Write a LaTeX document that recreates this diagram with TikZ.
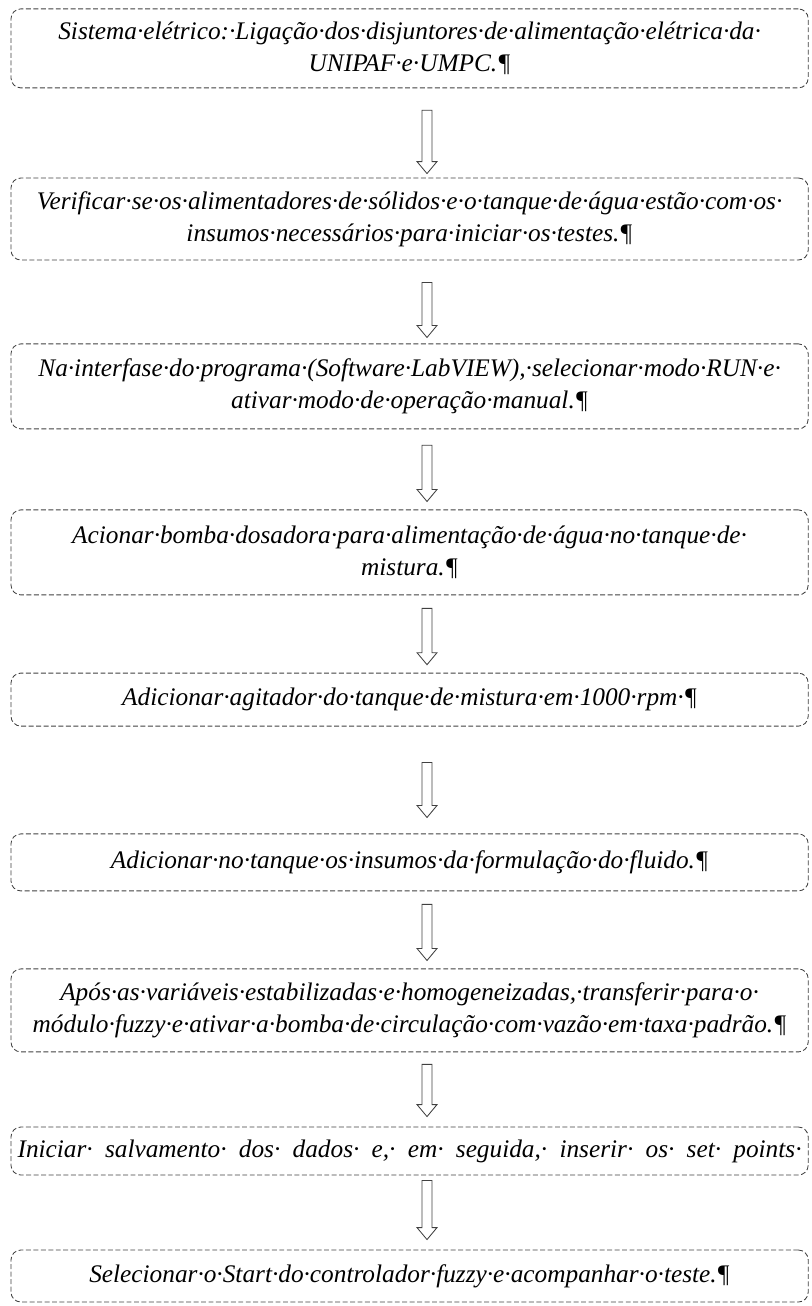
\documentclass[tikz,border=0pt]{standalone}
\usepackage{fontspec}
\setmainfont{Liberation Serif}
\usetikzlibrary{calc}

\tikzset{
	etapa/.style={draw=black!75, dash pattern=on 3.5pt off 1.8pt, line width=0.6pt,
		rounded corners=7pt, minimum width=19.93cm, text width=19.7cm, align=center,
		inner sep=1pt, font=\itshape\fontsize{18}{22.5}\selectfont},
	seta/.style={draw=black!75, line width=0.6pt, to path={
		let \p1=(\tikztostart), \p2=(\tikztotarget) in
		(\x1-0.125cm,\y1) -- (\x1-0.125cm,\y2+0.3cm) -- (\x1-0.25cm,\y2+0.3cm)
		-- (\x1,\y2) -- (\x1+0.25cm,\y2+0.3cm) -- (\x1+0.125cm,\y2+0.3cm)
		-- (\x1+0.125cm,\y1) -- cycle}}
}

\begin{document}
\begin{tikzpicture}
	\useasboundingbox (0,0) rectangle (20.3,-32.65);

	% the steps of the test procedure
	\node[etapa, minimum height=1.975cm] (e1) at (10.24,-1.21) {Sistema·elétrico:·Ligação·dos·disjuntores·de·alimentação·elétrica·da·\\UNIPAF·e·UMPC.¶};
	\node[etapa, minimum height=2.05cm] (e2) at (10.24,-5.475) {Verificar·se·os·alimentadores·de·sólidos·e·o·tanque·de·água·estão·com·os·\\insumos·necessários·para·iniciar·os·testes.¶};
	\node[etapa, minimum height=2.125cm] (e3) at (10.24,-9.66) {Na·interfase·do·programa·(Software·LabVIEW),·selecionar·modo·RUN·e·\\ativar·modo·de·operação·manual.¶};
	\node[etapa, minimum height=2.125cm] (e4) at (10.24,-13.81) {Acionar·bomba·dosadora·para·alimentação·de·água·no·tanque·de·\\mistura.¶};
	\node[etapa, minimum height=1.325cm] (e5) at (10.24,-17.49) {Adicionar·agitador·do·tanque·de·mistura·em·1000·rpm·¶};
	\node[etapa, minimum height=1.425cm] (e6) at (10.24,-21.56) {Adicionar·no·tanque·os·insumos·da·formulação·do·fluido.¶};
	\node[etapa, minimum height=2.075cm] (e7) at (10.24,-25.26) {Após·as·variáveis·estabilizadas·e·homogeneizadas,·transferir·para·o·\\\makebox[19.7cm]{módulo·fuzzy·e·ativar·a·bomba·de·circulação·com·vazão·em·taxa·padrão.¶}};
	\node[etapa, minimum height=1.2cm] (e8) at (10.24,-28.775) {\makebox[19.6cm]{Iniciar·\hfill salvamento·\hfill dos·\hfill dados·\hfill e,·\hfill em·\hfill seguida,·\hfill inserir·\hfill os·\hfill set·\hfill points·}};
	\node[etapa, minimum height=1.3cm] (e9) at (10.24,-31.9) {Selecionar·o·Start·do·controlador·fuzzy·e·acompanhar·o·teste.¶};

	% block arrows between the steps
	\foreach \a/\b/\s/\t in {e1/e2/0.55/0.1, e2/e3/0.55/0.15, e3/e4/0.4/0.2, e4/e5/0.325/0.2,
		e5/e6/0.9/0.4, e6/e7/0.325/0.2, e7/e8/0.3/0.25, e8/e9/0.125/0.25}
		\draw[seta] ([xshift=0.435cm, yshift=-\s cm]\a.south) to ([xshift=0.435cm, yshift=\t cm]\b.north);
\end{tikzpicture}
\end{document}
